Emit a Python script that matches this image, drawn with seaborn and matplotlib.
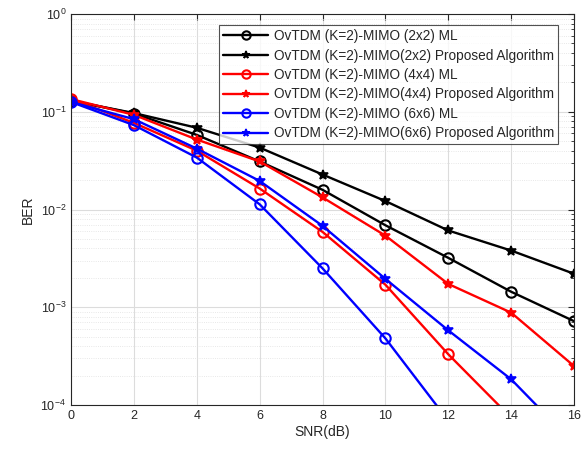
import numpy as np
import pandas as pd
import matplotlib
matplotlib.use('Agg')
import matplotlib.pyplot as plt
import seaborn as sns

# SNR (dB)
snr = [0, 2, 4, 6, 8, 10, 12, 14, 16]

# BER values
ber_2x2_ml = [0.13, 0.096, 0.058, 0.031, 0.0159, 0.0069, 0.0032, 0.00144, 0.00072]
ber_2x2_prop = [0.13, 0.097, 0.0686, 0.043, 0.0228, 0.0122, 0.0061, 0.0038, 0.0022]
ber_4x4_ml = [0.135, 0.077, 0.040, 0.0164, 0.0059, 0.0017, 0.00033, 0.000074]
ber_4x4_prop = [0.135, 0.093, 0.052, 0.031, 0.0133, 0.0054, 0.00173, 0.00088, 0.00025]
ber_6x6_ml = [0.126, 0.073, 0.034, 0.0113, 0.0025, 0.00048, 0.000069]
ber_6x6_prop = [0.126, 0.084, 0.042, 0.0196, 0.0068, 0.00195, 0.00058, 0.000183, 0.00004]

series = [
    ('OvTDM (K=2)-MIMO (2x2) ML', ber_2x2_ml, 'black', 'o'),
    ('OvTDM (K=2)-MIMO(2x2) Proposed Algorithm', ber_2x2_prop, 'black', '*'),
    ('OvTDM (K=2)-MIMO (4x4) ML', ber_4x4_ml, 'red', 'o'),
    ('OvTDM (K=2)-MIMO(4x4) Proposed Algorithm', ber_4x4_prop, 'red', '*'),
    ('OvTDM (K=2)-MIMO (6x6) ML', ber_6x6_ml, 'blue', 'o'),
    ('OvTDM (K=2)-MIMO(6x6) Proposed Algorithm', ber_6x6_prop, 'blue', '*'),
]

sns.set_style('white')
plt.rcParams['font.family'] = ['Liberation Sans', 'DejaVu Sans']

fig = plt.figure(figsize=(5.84, 4.53), dpi=100)
ax = fig.add_axes([0.1216, 0.106, 0.8614, 0.863])

for name, vals, col, mk in series:
    d = pd.DataFrame({'SNR': snr[:len(vals)], 'BER': vals})
    if mk == 'o':
        sns.lineplot(data=d, x='SNR', y='BER', ax=ax, color=col, lw=1.7,
                     marker='o', markersize=7.5, markerfacecolor='none',
                     markeredgecolor=col, markeredgewidth=1.5, label=name)
    else:
        sns.lineplot(data=d, x='SNR', y='BER', ax=ax, color=col, lw=1.7,
                     marker='*', markersize=7, markerfacecolor=col,
                     markeredgecolor=col, markeredgewidth=1.2, label=name)

ax.set_yscale('log')
ax.set_xlim(0, 16)
ax.set_ylim(1e-4, 1)
ax.set_xticks(range(0, 17, 2))
ax.grid(True, which='major', color='#dcdcdc', lw=0.8)
ax.grid(True, which='minor', axis='y', color='#e0e0e0', lw=0.6, ls=':')
ax.tick_params(which='both', direction='in', top=True, right=True,
               labelsize=9, colors='#262626')
ax.tick_params(which='major', length=4)
ax.tick_params(which='minor', length=2)
for s in ax.spines.values():
    s.set_color('#262626')
    s.set_linewidth(0.8)
ax.set_xlabel('SNR(dB)', fontsize=10, color='#262626', labelpad=2)
ax.set_ylabel('BER', fontsize=10, color='#262626', labelpad=4)

leg = ax.legend(loc='upper right', bbox_to_anchor=(0.968, 0.972), fontsize=9.8,
                frameon=True, fancybox=False, edgecolor='#262626',
                handlelength=3.3, borderpad=0.3, labelspacing=0.4,
                handletextpad=0.4, borderaxespad=0, markerscale=0.8)
leg.get_frame().set_linewidth(0.8)

fig.savefig('out.png', dpi=100)
